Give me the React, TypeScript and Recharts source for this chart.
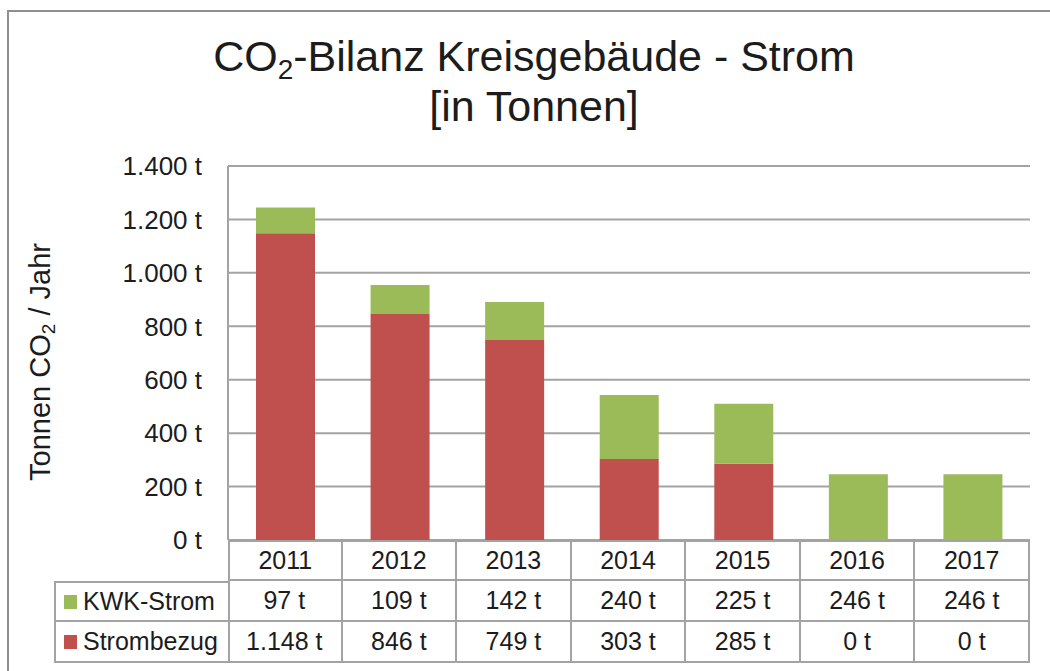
import { BarChart, Bar, XAxis, YAxis, CartesianGrid } from 'recharts';

const years = ['2011', '2012', '2013', '2014', '2015', '2016', '2017'];
const kwkStrom = [97, 109, 142, 240, 225, 246, 246];
const strombezug = [1148, 846, 749, 303, 285, 0, 0];
const yTicks = [0, 200, 400, 600, 800, 1000, 1200, 1400];

const GREEN = '#9bbb59';
const RED = '#c0504d';
const GRID = '#a3a3a3';
const FONT = '"Liberation Sans", Arial, sans-serif';
const TEXT = '#1c1c1c';

// plot box in page pixels
const PLOT_LEFT = 228;
const PLOT_RIGHT = 1030;
const PLOT_TOP = 166;
const PLOT_BOTTOM = 540;
const Y_AXIS_W = 110;

const fmt = (v: number) => String(v).replace(/\B(?=(\d{3})+(?!\d))/g, '.') + ' t';

const data = years.map((year, i) => ({ year, kwk: kwkStrom[i], bezug: strombezug[i] }));

const colW = (PLOT_RIGHT - PLOT_LEFT) / years.length;
const ROW_H = 41;

const cellStyle = {
  position: 'absolute' as const,
  boxSizing: 'border-box' as const,
  height: ROW_H,
  display: 'flex',
  alignItems: 'center',
  justifyContent: 'center',
  fontSize: 25,
  color: TEXT,
  fontFamily: FONT,
  borderRight: `2px solid ${GRID}`,
  borderBottom: `2px solid ${GRID}`,
};

function DataTable() {
  const rows = [
    { label: 'KWK-Strom', color: GREEN, values: kwkStrom },
    { label: 'Strombezug', color: RED, values: strombezug },
  ];
  const cells = [];
  years.forEach((y, i) => {
    cells.push(
      <div key={'h' + y} style={{ ...cellStyle, left: PLOT_LEFT + i * colW, top: PLOT_BOTTOM, width: colW, borderLeft: i === 0 ? `2px solid ${GRID}` : undefined, borderTop: `2px solid ${GRID}` }}>
        {y}
      </div>
    );
  });
  rows.forEach((r, ri) => {
    const top = PLOT_BOTTOM + ROW_H * (ri + 1);
    cells.push(
      <div key={'l' + ri} style={{ ...cellStyle, left: 54, top, width: PLOT_LEFT - 54 + 2, justifyContent: 'flex-start', paddingLeft: 8, borderLeft: `2px solid ${GRID}`, borderTop: ri === 0 ? `2px solid ${GRID}` : undefined }}>
        <span style={{ display: 'inline-block', width: 13, height: 14, background: r.color, marginRight: 6 }} />
        {r.label}
      </div>
    );
    r.values.forEach((v, i) => {
      cells.push(
        <div key={'c' + ri + i} style={{ ...cellStyle, left: PLOT_LEFT + i * colW, top, width: colW }}>
          {fmt(v)}
        </div>
      );
    });
  });
  return <>{cells}</>;
}

export default function App() {
  return (
    <div style={{ position: 'absolute', left: 0, top: 0, width: 1050, height: 671, overflow: 'hidden', background: '#fff', fontFamily: FONT }}>
      <div style={{ position: 'absolute', left: 7, top: 10, width: 1100, height: 700, borderTop: '2px solid #8f8f8f', borderLeft: '2px solid #8f8f8f' }} />
      <div style={{ position: 'absolute', left: 0, width: 1068, top: 31, textAlign: 'center', fontSize: 43, lineHeight: '50px', color: TEXT }}>
        CO<sub style={{ fontSize: 28, verticalAlign: '-8px', lineHeight: 0 }}>2</sub>-Bilanz Kreisgebäude - Strom
        <br />
        [in Tonnen]
      </div>
      <div style={{ position: 'absolute', left: 40, top: 362, transform: 'translate(-50%, -50%) rotate(-90deg)', whiteSpace: 'nowrap', fontSize: 29, color: TEXT }}>
        Tonnen CO<sub style={{ fontSize: 19, verticalAlign: '-5px', lineHeight: 0 }}>2</sub> / Jahr
      </div>
      <div style={{ position: 'absolute', left: 0, top: 0 }}>
        <BarChart
          width={1050}
          height={671}
          data={data}
          barSize={59}
          margin={{ top: PLOT_TOP, right: 1050 - PLOT_RIGHT, left: PLOT_LEFT - Y_AXIS_W, bottom: 671 - PLOT_BOTTOM }}
        >
          <CartesianGrid vertical={false} stroke={GRID} strokeWidth={2} />
          <XAxis dataKey="year" hide height={0} />
          <YAxis
            width={Y_AXIS_W}
            domain={[0, 1400]}
            ticks={yTicks}
            tickFormatter={fmt}
            tickLine={false}
            tickSize={0}
            tickMargin={26}
            axisLine={{ stroke: GRID, strokeWidth: 2 }}
            tick={{ fill: TEXT, fontSize: 26, fontFamily: FONT }}
            interval={0}
          />
          <Bar dataKey="bezug" stackId="a" fill={RED} isAnimationActive={false} />
          <Bar dataKey="kwk" stackId="a" fill={GREEN} isAnimationActive={false} />
        </BarChart>
      </div>
      <DataTable />
    </div>
  );
}
